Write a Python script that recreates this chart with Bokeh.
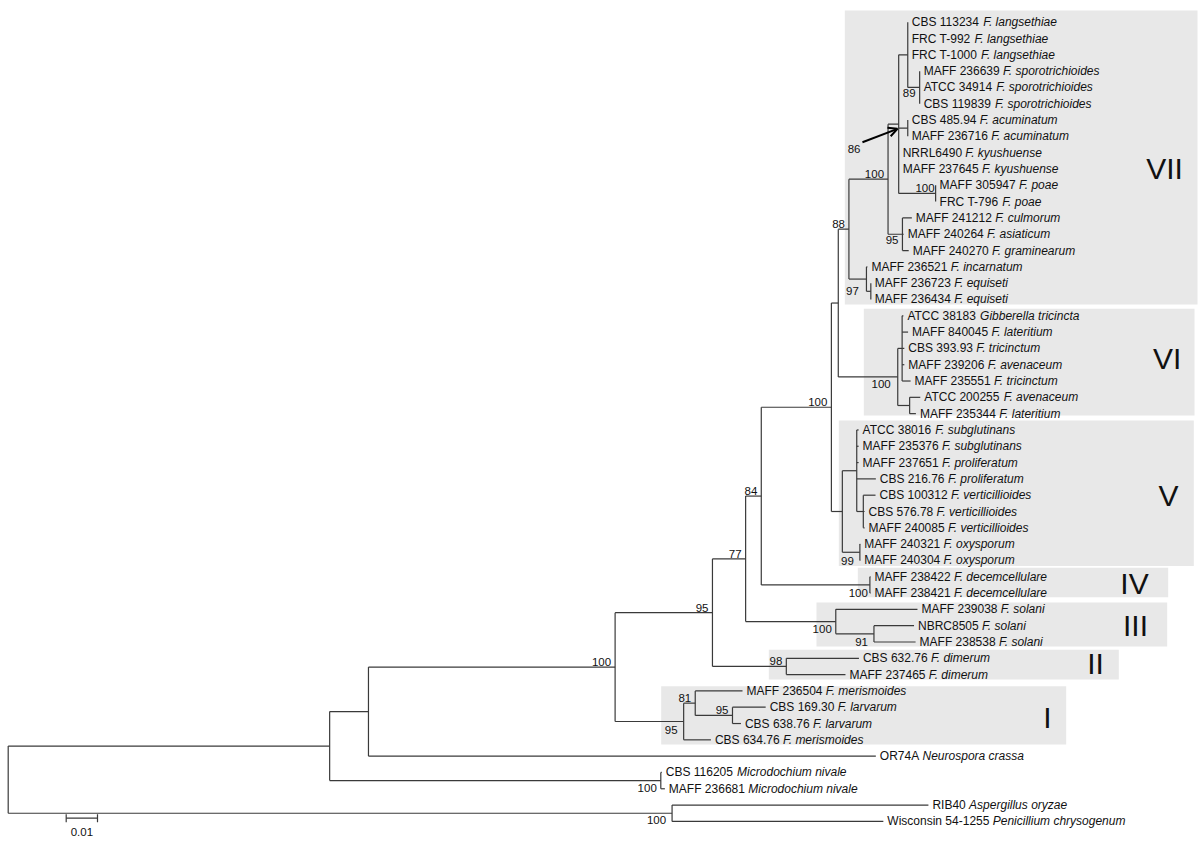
from bokeh.plotting import figure
from bokeh.models import ColumnDataSource, Range1d, Arrow, OpenHead
from bokeh.embed import file_html
from bokeh.resources import INLINE
from bokeh.core.properties import value

# ---------------- DATA ----------------
strains = ["CBS 113234", "FRC T-992", "FRC T-1000", "MAFF 236639", "ATCC 34914", "CBS 119839",
           "CBS 485.94", "MAFF 236716", "NRRL6490", "MAFF 237645", "MAFF 305947", "FRC T-796",
           "MAFF 241212", "MAFF 240264", "MAFF 240270", "MAFF 236521", "MAFF 236723", "MAFF 236434",
           "ATCC 38183", "MAFF 840045", "CBS 393.93", "MAFF 239206", "MAFF 235551", "ATCC 200255",
           "MAFF 235344", "ATCC 38016", "MAFF 235376", "MAFF 237651", "CBS 216.76", "CBS 100312",
           "CBS 576.78", "MAFF 240085", "MAFF 240321", "MAFF 240304", "MAFF 238422", "MAFF 238421",
           "MAFF 239038", "NBRC8505", "MAFF 238538", "CBS 632.76", "MAFF 237465", "MAFF 236504",
           "CBS 169.30", "CBS 638.76", "CBS 634.76", "OR74A", "CBS 116205", "MAFF 236681",
           "RIB40", "Wisconsin 54-1255"]

species = ["F. langsethiae", "F. langsethiae", "F. langsethiae", "F. sporotrichioides",
           "F. sporotrichioides", "F. sporotrichioides", "F. acuminatum", "F. acuminatum",
           "F. kyushuense", "F. kyushuense", "F. poae", "F. poae", "F. culmorum", "F. asiaticum",
           "F. graminearum", "F. incarnatum", "F. equiseti", "F. equiseti", "Gibberella tricincta",
           "F. lateritium", "F. tricinctum", "F. avenaceum", "F. tricinctum", "F. avenaceum",
           "F. lateritium", "F. subglutinans", "F. subglutinans", "F. proliferatum", "F. proliferatum",
           "F. verticillioides", "F. verticillioides", "F. verticillioides", "F. oxysporum",
           "F. oxysporum", "F. decemcellulare", "F. decemcellulare", "F. solani", "F. solani",
           "F. solani", "F. dimerum", "F. dimerum", "F. merismoides", "F. larvarum", "F. larvarum",
           "F. merismoides", "Neurospora crassa", "Microdochium nivale", "Microdochium nivale",
           "Aspergillus oryzae", "Penicillium chrysogenum"]

leaf_parent = ["R", "R", "R", "S", "S", "S", "T", "T", "P", "P", "U", "U", "Q", "Q", "Q",
               "W", "W2", "W2", "VIa", "VIa", "VIa", "VIa", "VIa", "VIb", "VIb",
               "Va", "Va", "Va", "Va", "Vb", "Vb", "Vb", "X", "X", "IV", "IV",
               "III", "III2", "III2", "II", "II", "I2", "I3", "I3", "I",
               "B", "M", "M", "AP", "AP"]

leaf_branch = [0.0, 0.0, 0.0, 0.0, 0.0, 0.0, 0.0, 0.0, 0.0, 0.0, 0.0, 0.0,
               0.0030, 0.0004, 0.0020, 0.0003, 0.0, 0.0,
               0.0004, 0.0019, 0.0007, 0.0007, 0.0027, 0.0034, 0.0020,
               0.0006, 0.0006, 0.0006, 0.0061, 0.0039, 0.0004, 0.0004, 0.0001, 0.0001,
               0.0002, 0.0002, 0.0261, 0.0128, 0.0133, 0.0232, 0.0189,
               0.0151, 0.0106, 0.0027, 0.0087, 0.1621, 0.0003, 0.0013, 0.0819, 0.0675]

node_names = ["root", "A", "AP", "M", "B", "C", "D", "E", "F", "G", "H", "K", "L", "P", "R",
              "S", "T", "U", "Q", "W", "W2", "VI", "VIa", "VIb", "V", "Va", "Vb", "X", "IV",
              "III", "III2", "II", "I", "I2", "I3"]
node_parent = [None, "root", "root", "A", "A", "B", "C", "D", "E", "F", "G", "H", "K", "L", "P",
               "R", "P", "P", "L", "K", "W", "H", "VI", "VI", "G", "V", "Va", "V", "F",
               "E", "III", "D", "C", "I", "I2"]
node_branch = [0.0, 0.1027, 0.2121, 0.1058, 0.0124, 0.0788, 0.0311, 0.0106, 0.0050, 0.0224,
               0.0022, 0.0034, 0.0125, 0.0034, 0.0029, 0.0038, 0.0029, 0.0118, 0.0046, 0.0056,
               0.0014, 0.0190, 0.0014, 0.0038, 0.0035, 0.0046, 0.0021, 0.0056, 0.0347,
               0.0288, 0.0122, 0.0236, 0.0219, 0.0037, 0.0119]

bs_node = ["AP", "M", "C", "D", "E", "F", "G", "K", "L", "S", "U", "Q", "W2", "VI", "X",
           "IV", "III", "III2", "II", "I", "I2", "I3"]
bs_value = ["100", "100", "100", "95", "77", "84", "100", "88", "100", "89", "100", "95", "97",
            "100", "99", "100", "100", "91", "98", "95", "81", "95"]
arrow_node = "T"
arrow_value = "86"

clade_names = ["VII", "VI", "V", "IV", "III", "II", "I"]
scale_length = 0.01
scale_label = "0.01"

# ---------------- LAYOUT / STYLE ----------------
PXX = 1 / 3130.0     # distance per reference pixel (x)
PXY = 1 / 16.31      # leaf rows per reference pixel (y)
X0, Y0 = 7.7, 21.7   # reference pixel of root / first leaf

def rx(px):
    return (px - X0) * PXX

def ry(py):
    return (py - Y0) * PXY

# bootstrap label placement: side (a=above, b=below, m=middle), dx, dy in screen px
bs_side = ["b", "b", "a", "a", "a", "a", "a", "a", "a", "b", "a", "b", "m", "b", "b",
           "b", "b", "b", "a", "b", "a", "a"]
bs_dx = [-6, -4, -4, -4, -4, -4, -4, -4, -4, -4, -1, -4, -12, -7, -6, -2, -4, -6, -4, -6, -4, -4]
bs_dy = [3, 3, -1, -1, -1, -1, -1, -1, -1, 2, -1, 2, 0, 3, 5, 4, 3, 4, -1, 5, -1, -1]

box_left_px = [844.3, 863.3, 838.3, 857.3, 816.0, 768.3, 660.7]
box_right_px = [1197.0, 1194.0, 1193.3, 1167.7, 1166.7, 1118.3, 1065.7]
box_top_px = [10.0, 308.3, 420.0, 567.3, 602.0, 649.3, 685.7]
box_bottom_px = [304.0, 415.0, 565.5, 596.7, 646.0, 679.0, 744.0]
clade_cx_px = [1164.0, 1166.7, 1168.0, 1134.0, 1135.0, 1095.0, 1047.0]
clade_cy_px = [168.0, 358.0, 495.0, 583.0, 625.0, 663.0, 717.0]

FONT = "Liberation Sans"
FS = 12.0
BS_FS = 11.5
LINE_COLOR = "#3a3a3a"
BOX_COLOR = "#e8e8e8"

AW = {' ': 278, '.': 278, '-': 333, '0': 556, '1': 556, '2': 556, '3': 556, '4': 556, '5': 556,
      '6': 556, '7': 556, '8': 556, '9': 556, 'A': 667, 'B': 667, 'C': 722, 'D': 722, 'E': 667,
      'F': 611, 'G': 778, 'H': 722, 'I': 278, 'K': 667, 'L': 556, 'M': 833, 'N': 722, 'O': 778,
      'P': 667, 'R': 722, 'S': 667, 'T': 611, 'W': 944, 'a': 556, 'c': 500, 'e': 556, 'i': 222,
      'n': 556, 'o': 556, 's': 500}

def tw(s, size):
    return sum(AW.get(c, 556) for c in s) * size / 1000.0

# ---------------- tree layout ----------------
children = {n: [] for n in node_names}
nbranch = dict(zip(node_names, node_branch))
for n, par in zip(node_names, node_parent):
    if par is not None:
        children[par].append(("n", n))
for i, par in enumerate(leaf_parent):
    children[par].append(("l", i))

nx, ny, lx = {}, {}, {}

def place(n, x):
    nx[n] = x
    ys = []
    for kind, c in children[n]:
        if kind == "n":
            place(c, x + nbranch[c])
            ys.append(ny[c])
        else:
            lx[c] = x + leaf_branch[c]
            ys.append(float(c))
    ny[n] = (min(ys) + max(ys)) / 2.0

place("root", 0.0)

hx0, hx1, hy, vx, vy0, vy1 = [], [], [], [], [], []
for n, par in zip(node_names, node_parent):
    ys = [ny[c] if k == "n" else float(c) for k, c in children[n]]
    vx.append(nx[n]); vy0.append(min(ys)); vy1.append(max(ys))
    if par is not None:
        hx0.append(nx[par]); hx1.append(nx[n]); hy.append(ny[n])
for i, par in enumerate(leaf_parent):
    hx0.append(nx[par]); hx1.append(lx[i]); hy.append(float(i))

# ---------------- figure ----------------
p = figure(width=1200, height=843, output_backend="svg", toolbar_location=None,
           x_range=Range1d(rx(0), rx(1200)), y_range=Range1d(ry(843), ry(0)),
           x_axis_location=None, y_axis_location=None, min_border=0)
p.outline_line_color = None
p.grid.visible = False
p.background_fill_color = "white"
p.border_fill_color = "white"

# clade boxes
p.quad(left=[rx(v) for v in box_left_px], right=[rx(v) for v in box_right_px],
       top=[ry(v) for v in box_top_px], bottom=[ry(v) for v in box_bottom_px],
       fill_color=BOX_COLOR, line_color=None)

# branches
p.segment(x0=hx0, y0=hy, x1=hx1, y1=hy, line_color=LINE_COLOR, line_width=1.2)
p.segment(x0=vx, y0=vy0, x1=vx, y1=vy1, line_color=LINE_COLOR, line_width=1.2)

# leaf labels
leaf_src = ColumnDataSource(dict(x=[lx[i] for i in range(len(strains))],
                                 y=[float(i) for i in range(len(strains))],
                                 strain=strains, species=species,
                                 off=[4 + tw(s + " ", FS) for s in strains]))
p.text(x="x", y="y", text="strain", source=leaf_src, x_offset=4,
       text_font=value(FONT), text_font_size=f"{FS}px", text_baseline="middle",
       text_color="#111111")
p.text(x="x", y="y", text="species", source=leaf_src, x_offset="off",
       text_font=value(FONT), text_font_size=f"{FS}px", text_font_style="italic",
       text_baseline="middle", text_color="#111111")

# bootstrap labels
base_map = {"a": "bottom", "b": "top", "m": "middle"}
for side in ("a", "b", "m"):
    idx = [k for k, s in enumerate(bs_side) if s == side]
    if not idx:
        continue
    src = ColumnDataSource(dict(x=[nx[bs_node[k]] for k in idx], y=[ny[bs_node[k]] for k in idx],
                                t=[bs_value[k] for k in idx], dx=[bs_dx[k] for k in idx],
                                dy=[bs_dy[k] for k in idx]))
    p.text(x="x", y="y", text="t", source=src, x_offset="dx", y_offset="dy",
           text_align="right", text_baseline=base_map[side],
           text_font=value(FONT), text_font_size=f"{BS_FS}px", text_color="#111111")

# arrowed bootstrap label
ax, ay = nx[arrow_node], ny[arrow_node]
p.add_layout(Arrow(end=OpenHead(size=9, line_width=2, line_color="black"),
                   x_start=ax - 45.3 * PXX, y_start=ay + 14.0 * PXY,
                   x_end=ax - 10.3 * PXX, y_end=ay + 0.6 * PXY,
                   line_width=2, line_color="black"))
p.text(x=[ax - 53.7 * PXX], y=[ay + 20.6 * PXY], text=[arrow_value], text_align="center",
       text_baseline="middle", text_font=value(FONT), text_font_size=f"{BS_FS}px",
       text_color="#111111")

# clade numerals
p.text(x=[rx(v) for v in clade_cx_px], y=[ry(v) for v in clade_cy_px], text=clade_names,
       text_align="center", text_baseline="middle", text_font=value(FONT),
       text_font_size="30px", text_color="#111111")

# scale bar
sb_x0 = rx(65.7)
sb_y = ry(817.7)
p.segment(x0=[sb_x0, sb_x0, sb_x0 + scale_length], y0=[sb_y, sb_y - 4 * PXY, sb_y - 4 * PXY],
          x1=[sb_x0 + scale_length, sb_x0, sb_x0 + scale_length],
          y1=[sb_y, sb_y + 4 * PXY, sb_y + 4 * PXY], line_color=LINE_COLOR, line_width=1.2)
p.text(x=[sb_x0 + scale_length / 2], y=[ry(831.7)], text=[scale_label], text_align="center",
       text_baseline="middle", text_font=value(FONT), text_font_size=f"{BS_FS}px",
       text_color="#111111")

open("out.html", "w").write(file_html(p, INLINE))
